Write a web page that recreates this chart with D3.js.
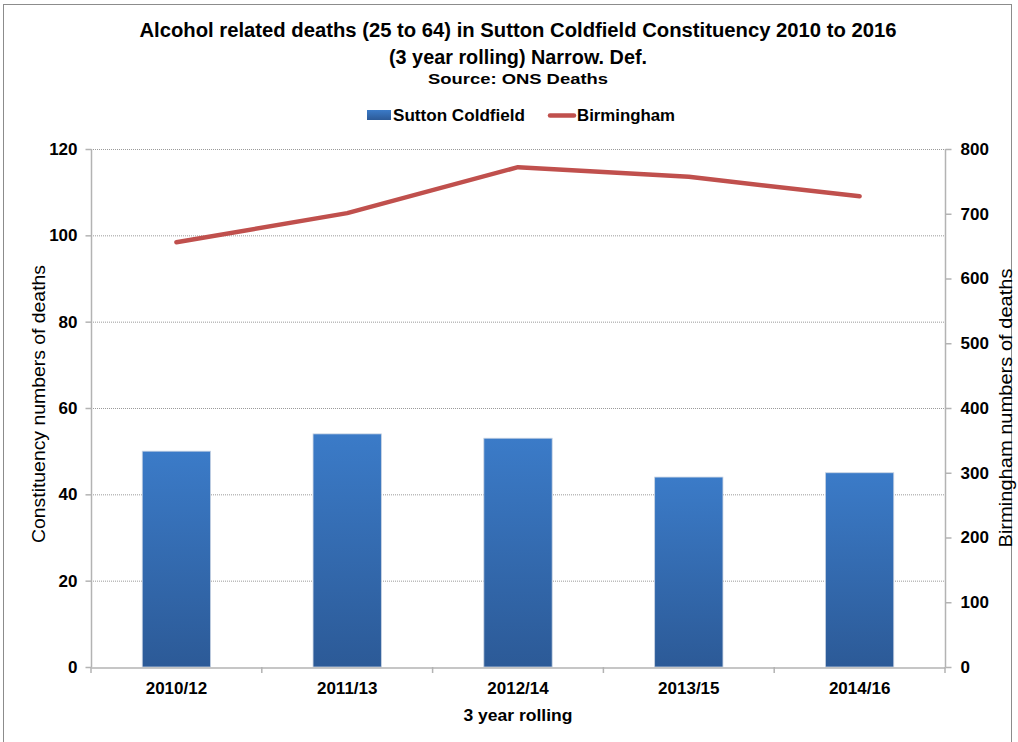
<!DOCTYPE html>
<html><head><meta charset="utf-8">
<script src="https://cdn.jsdelivr.net/npm/d3@7"></script>
<style>body{margin:0;background:#fff}svg{display:block;font-family:"Liberation Sans",Arial,sans-serif}</style>
</head><body>
<svg id="c" width="1018" height="742"></svg>
<script>
const categories = ["2010/12","2011/13","2012/14","2013/15","2014/16"];
const suttonValues = [50,54,53,44,45];
const birminghamValues = [656,701,772,757,727];
const leftTicks = [0,20,40,60,80,100,120];
const rightTicks = [0,100,200,300,400,500,600,700,800];

const svg = d3.select("#c");
const m = {l:91, r:945, t:149, b:667};

svg.append("rect").attr("x",3.5).attr("y",4.5).attr("width",1008).attr("height",750)
  .attr("fill","#fff").attr("stroke","#8c8c8c").attr("stroke-width",1);

const defs = svg.append("defs");
const g = defs.append("linearGradient").attr("id","bg").attr("x1",0).attr("y1",0).attr("x2",0).attr("y2",1);
g.append("stop").attr("offset","0%").attr("stop-color","#3b7bc8");
g.append("stop").attr("offset","100%").attr("stop-color","#2c5a97");

const x = d3.scaleBand().domain(categories).range([m.l,m.r]).paddingInner(0).paddingOuter(0);
const yL = d3.scaleLinear().domain([0,120]).range([m.b,m.t]);
const yR = d3.scaleLinear().domain([0,800]).range([m.b,m.t]);

// gridlines
svg.append("g").selectAll("line").data(leftTicks.filter(d=>d>0)).join("line")
  .attr("x1",m.l).attr("x2",m.r).attr("y1",d=>yL(d)+0.5).attr("y2",d=>yL(d)+0.5)
  .attr("stroke","#9a9a9a").attr("stroke-width",1).attr("stroke-dasharray","1,1");

// bars
const bw = x.bandwidth()*0.4;
svg.append("g").selectAll("rect").data(categories).join("rect")
  .attr("x",(d)=>x(d)+x.bandwidth()/2-bw/2)
  .attr("y",(d,i)=>yL(suttonValues[i]))
  .attr("width",bw)
  .attr("height",(d,i)=>yL(0)-yL(suttonValues[i]))
  .attr("fill","url(#bg)").attr("stroke","#c8d3e3").attr("stroke-width",0.8);

// axes
const axisColor = "#b3b3b3";
const ax = svg.append("g").attr("transform",`translate(0,${m.b+0.5})`)
  .call(d3.axisBottom(x).tickSize(0).tickPadding(14));
ax.select(".domain").attr("stroke",axisColor).attr("stroke-width",1.5);
ax.selectAll("text").attr("font-size",17).attr("font-weight","bold").attr("fill","#000");
svg.append("g").selectAll("line").data(d3.range(categories.length+1)).join("line")
  .attr("x1",i=>m.l+i*x.bandwidth()).attr("x2",i=>m.l+i*x.bandwidth())
  .attr("y1",m.b).attr("y2",m.b+6).attr("stroke",axisColor).attr("stroke-width",1.5);

const al = svg.append("g").attr("transform",`translate(${m.l+0.5},0)`)
  .call(d3.axisLeft(yL).tickValues(leftTicks).tickSize(6).tickPadding(8));
al.select(".domain").attr("stroke",axisColor).attr("stroke-width",1.5).attr("d",`M-0,${m.t}V${m.b}`);
al.selectAll(".tick line").attr("stroke",axisColor).attr("stroke-width",1.5);
al.selectAll("text").attr("font-size",17).attr("font-weight","bold").attr("fill","#000");

const ar = svg.append("g").attr("transform",`translate(${m.r+0.5},0)`)
  .call(d3.axisRight(yR).tickValues(rightTicks).tickSize(6).tickPadding(9));
ar.select(".domain").attr("stroke",axisColor).attr("stroke-width",1.5).attr("d",`M0,${m.t}V${m.b}`);
ar.selectAll(".tick line").attr("stroke",axisColor).attr("stroke-width",1.5);
ar.selectAll("text").attr("font-size",17).attr("font-weight","bold").attr("fill","#000");

// line
const line = d3.line().x((d,i)=>x(categories[i])+x.bandwidth()/2).y(d=>yR(d));
svg.append("path").datum(birminghamValues).attr("d",line)
  .attr("fill","none").attr("stroke","#c0504d").attr("stroke-width",4.5)
  .attr("stroke-linecap","round").attr("stroke-linejoin","round");

// titles
const t = svg.append("g").attr("text-anchor","middle").attr("font-weight","bold").attr("fill","#000");
t.append("text").attr("x",518).attr("y",37).attr("font-size",19.5).attr("textLength",757).attr("lengthAdjust","spacingAndGlyphs")
  .text("Alcohol related deaths (25 to 64) in Sutton Coldfield Constituency 2010 to 2016");
t.append("text").attr("x",518).attr("y",64).attr("font-size",19.5).attr("textLength",258).attr("lengthAdjust","spacingAndGlyphs")
  .text("(3 year rolling) Narrow. Def.");
t.append("text").attr("x",518).attr("y",84).attr("font-size",15.5).attr("textLength",180).attr("lengthAdjust","spacingAndGlyphs")
  .text("Source: ONS Deaths");

// legend
const lg = svg.append("g");
lg.append("rect").attr("x",367).attr("y",110).attr("width",24).attr("height",10).attr("fill","url(#bg)");
lg.append("text").attr("x",393).attr("y",121).attr("font-size",17).attr("font-weight","bold")
  .attr("textLength",132).attr("lengthAdjust","spacingAndGlyphs").text("Sutton Coldfield");
lg.append("line").attr("x1",550).attr("x2",574).attr("y1",115.5).attr("y2",115.5)
  .attr("stroke","#c0504d").attr("stroke-width",4.5).attr("stroke-linecap","round");
lg.append("text").attr("x",577).attr("y",121).attr("font-size",17).attr("font-weight","bold")
  .attr("textLength",98).attr("lengthAdjust","spacingAndGlyphs").text("Birmingham");

// axis titles
svg.append("text").attr("transform","translate(45,404) rotate(-90)").attr("text-anchor","middle")
  .attr("font-size",19).attr("textLength",278).attr("lengthAdjust","spacingAndGlyphs").text("Constituency numbers of deaths");
svg.append("text").attr("transform","translate(1012,408) rotate(-90)").attr("text-anchor","middle")
  .attr("font-size",19).attr("textLength",279).attr("lengthAdjust","spacingAndGlyphs").text("Birmingham numbers of deaths");
svg.append("text").attr("x",518).attr("y",721).attr("text-anchor","middle").attr("font-weight","bold")
  .attr("font-size",17).attr("textLength",109).attr("lengthAdjust","spacingAndGlyphs").text("3 year rolling");
</script>
</body></html>
